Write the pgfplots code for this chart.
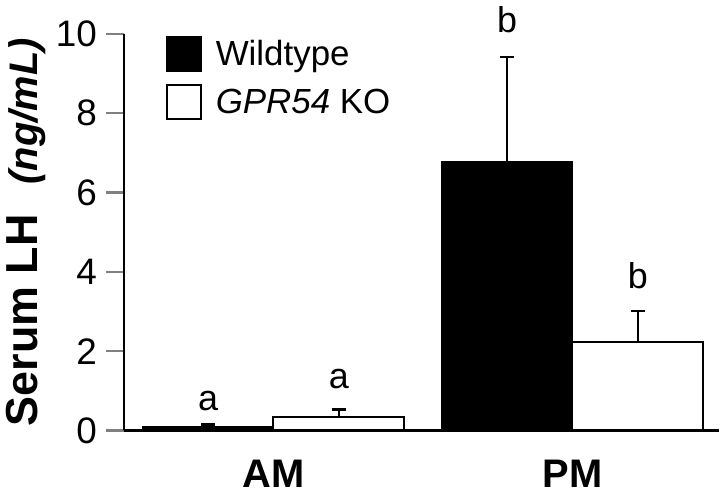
\documentclass[border=0pt]{standalone}
\usepackage{pgfplots}
\pgfplotsset{compat=1.18}
\usepackage{fontspec}
\setmainfont{Liberation Sans}

\begin{document}
\begin{tikzpicture}
\begin{axis}[
  scale only axis,
  width=298.5pt, height=199pt,
  xmin=-0.5, xmax=1.49,
  ymin=0, ymax=10,
  axis lines*=left,
  axis line style={line width=1.1pt},
  clip=false,
  ytick={0,2,4,6,8,10},
  xtick={0,1},
  xticklabels={AM,PM},
  tick align=outside,
  major tick length=9pt,
  x tick style={draw=none},
  y tick style={line width=1.1pt},
  /pgf/number format/assume math mode=true,
  yticklabel style={font=\fontsize{18.5}{19}\selectfont, xshift=-1pt},
  xticklabel style={font=\fontsize{20}{21}\selectfont\bfseries, yshift=-2.5pt},
  ylabel={\fontsize{22.5}{23}\selectfont\bfseries Serum LH\hspace{15pt}{\fontsize{20}{21}\selectfont\bfseries\itshape(ng/mL)}},
  ylabel style={yshift=-2pt},
  legend style={at={(rel axis cs:0.07,0.995)}, anchor=north west, draw=none, fill=none,
    font=\fontsize{17.5}{18}\selectfont, row sep=6pt, inner sep=0pt,
    cells={anchor=west}},
  error bars/error bar style={line width=1.1pt, black},
  error bars/error mark options={rotate=90, mark size=3.5pt, line width=1.1pt, black},
]
% bars are placed at their own x positions (group centre -/+ 0.2185)
\addplot[ybar, bar width=0.437, bar shift=0, fill=black, draw=black, line width=1pt,
  legend image code/.code={\draw[fill=black,draw=black,line width=1pt] (0pt,-8.5pt) rectangle (17pt,8.5pt); \path (22pt,0pt);},
  error bars/.cd, y dir=plus, y explicit]
  coordinates {(-0.2185,0.09) +- (0,0.06) (0.7815,6.77) +- (0,2.65)};
\addlegendentry{Wildtype}
\addplot[ybar, bar width=0.437, bar shift=0, fill=white, draw=black, line width=1pt,
  legend image code/.code={\draw[fill=white,draw=black,line width=1pt] (0pt,-8.5pt) rectangle (17pt,8.5pt); \path (22pt,0pt);},
  error bars/.cd, y dir=plus, y explicit]
  coordinates {(0.2185,0.33) +- (0,0.20) (1.2185,2.24) +- (0,0.78)};
\addlegendentry{\textit{GPR54} KO}
\begin{scope}[every node/.style={anchor=base, font=\fontsize{18}{19}\selectfont}]
\node at (axis cs:-0.2185,0.50) {a};
\node at (axis cs:0.2185,1.06) {a};
\node at (axis cs:0.7815,10.03) {b};
\node at (axis cs:1.2185,3.57) {b};
\end{scope}
\end{axis}
\end{tikzpicture}
\end{document}
